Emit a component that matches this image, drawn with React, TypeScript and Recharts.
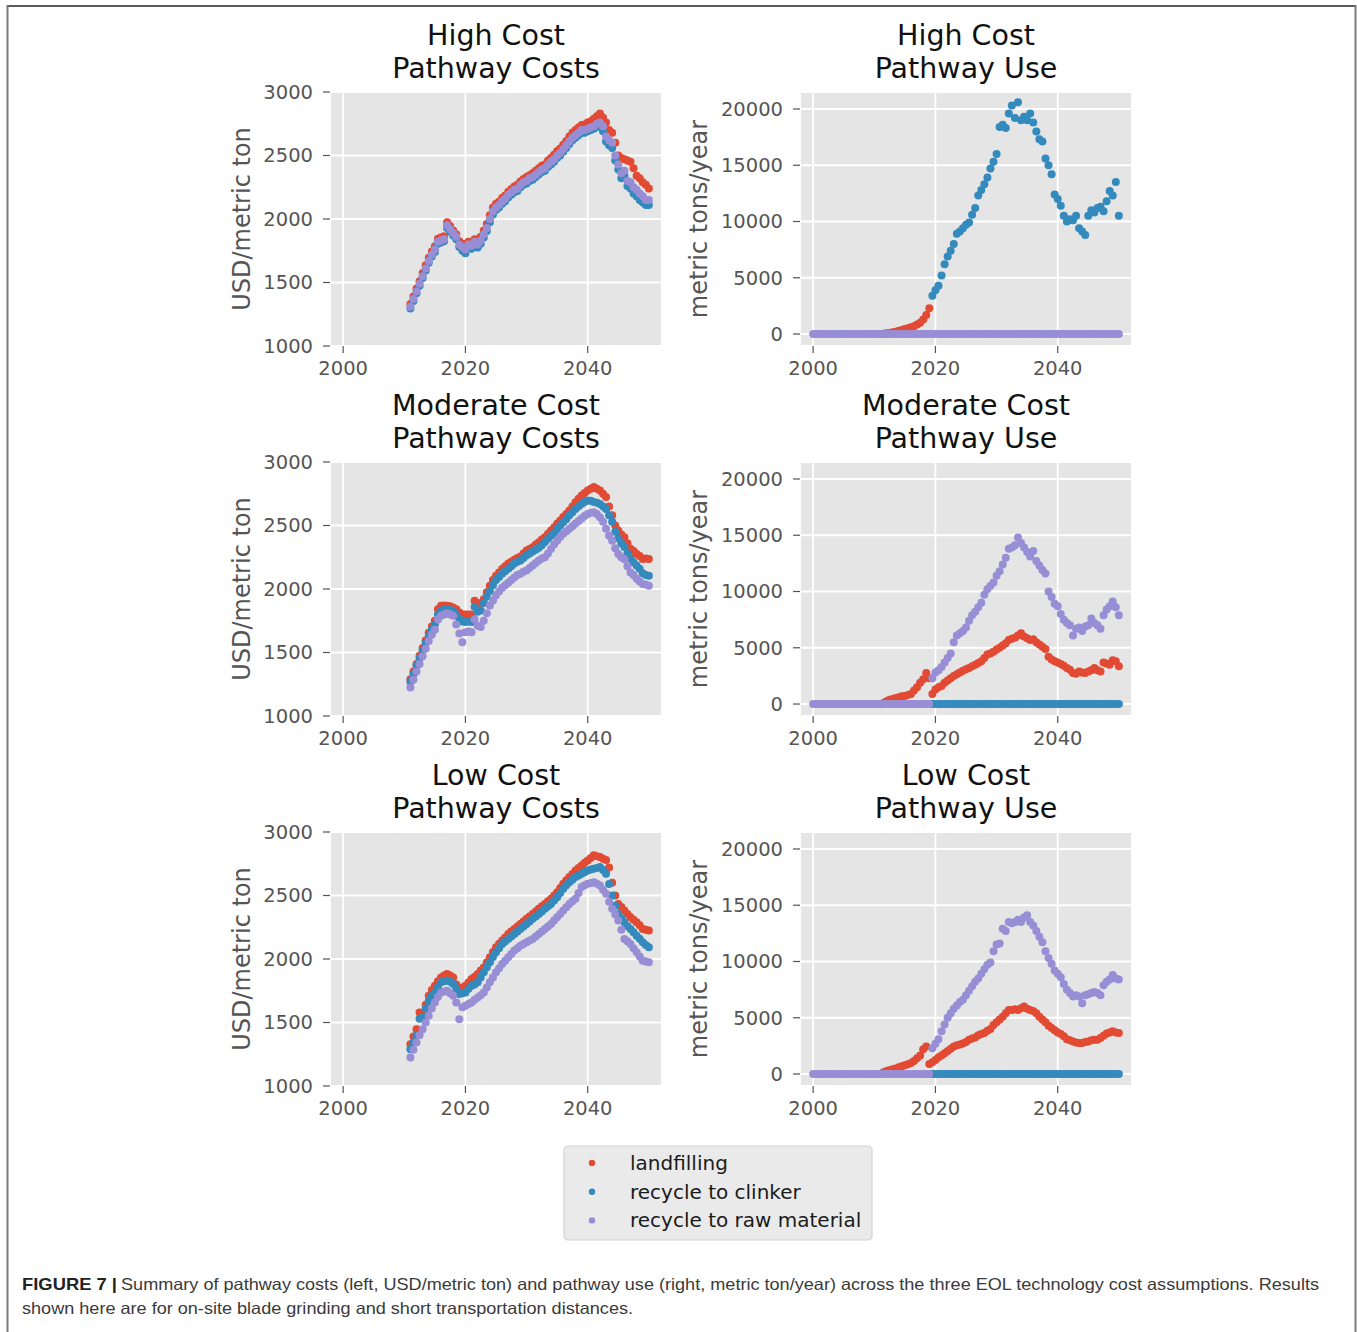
import React from 'react';
import { ScatterChart, Scatter, XAxis, YAxis, CartesianGrid } from 'recharts';

// ---------------- data ----------------
const COST_YEARS = [2011, 2011.5, 2012, 2012.5, 2013, 2013.5, 2014, 2014.5, 2015, 2015.5, 2016, 2016.5, 2017, 2017.5, 2018, 2018.5, 2019, 2019.5, 2020, 2020.5, 2021, 2021.5, 2022, 2022.5, 2023, 2023.5, 2024, 2024.5, 2025, 2025.5, 2026, 2026.5, 2027, 2027.5, 2028, 2028.5, 2029, 2029.5, 2030, 2030.5, 2031, 2031.5, 2032, 2032.5, 2033, 2033.5, 2034, 2034.5, 2035, 2035.5, 2036, 2036.5, 2037, 2037.5, 2038, 2038.5, 2039, 2039.5, 2040, 2040.5, 2041, 2041.5, 2042, 2042.5, 2043, 2043.5, 2044, 2044.5, 2045, 2045.5, 2046, 2046.5, 2047, 2047.5, 2048, 2048.5, 2049, 2049.5, 2050];
const EARLY_YEARS = [2000, 2000.5, 2001, 2001.5, 2002, 2002.5, 2003, 2003.5, 2004, 2004.5, 2005, 2005.5, 2006, 2006.5, 2007, 2007.5, 2008, 2008.5, 2009, 2009.5, 2010, 2010.5];
const USE_YEARS = [...EARLY_YEARS, ...COST_YEARS];
const LATE_YEARS = [2019.5, 2020, 2020.5, 2021, 2021.5, 2022, 2022.5, 2023, 2023.5, 2024, 2024.5, 2025, 2025.5, 2026, 2026.5, 2027, 2027.5, 2028, 2028.5, 2029, 2029.5, 2030, 2030.5, 2031, 2031.5, 2032, 2032.5, 2033, 2033.5, 2034, 2034.5, 2035, 2035.5, 2036, 2036.5, 2037, 2037.5, 2038, 2038.5, 2039, 2039.5, 2040, 2040.5, 2041, 2041.5, 2042, 2042.5, 2043, 2043.5, 2044, 2044.5, 2045, 2045.5, 2046, 2046.5, 2047, 2047.5, 2048, 2048.5, 2049, 2049.5, 2050];

const X_TICKS = [2000, 2020, 2040];
const COST_TICKS = [1000, 1500, 2000, 2500, 3000];
const USE_TICKS = [0, 5000, 10000, 15000, 20000];

const SERIES_NAMES = ['landfilling', 'recycle to clinker', 'recycle to raw material'];

// High cost - pathway costs (USD/metric ton), 2011..2050
const highCostLandfill = [1330, 1390, 1450, 1510, 1575, 1635, 1695, 1745, 1785, 1845, 1855, 1865, 1975, 1945, 1910, 1880, 1825, 1805, 1785, 1820, 1815, 1840, 1825, 1860, 1910, 1960, 2030, 2090, 2120, 2135, 2165, 2185, 2215, 2235, 2255, 2270, 2295, 2315, 2330, 2345, 2360, 2380, 2400, 2420, 2430, 2460, 2480, 2505, 2535, 2555, 2585, 2615, 2650, 2680, 2700, 2720, 2740, 2745, 2760, 2770, 2790, 2810, 2830, 2800, 2760, 2700, 2680, 2600, 2500, 2480, 2470, 2460, 2450, 2400, 2340, 2320, 2290, 2270, 2240];
const highCostClinker = [1295, 1355, 1415, 1475, 1535, 1595, 1655, 1705, 1740, 1805, 1815, 1825, 1930, 1900, 1870, 1840, 1780, 1750, 1730, 1775, 1765, 1795, 1775, 1805, 1855, 1905, 1975, 2035, 2070, 2090, 2120, 2140, 2170, 2190, 2210, 2220, 2250, 2270, 2280, 2300, 2310, 2330, 2350, 2370, 2380, 2410, 2430, 2450, 2480, 2500, 2530, 2560, 2590, 2620, 2640, 2660, 2680, 2680, 2690, 2700, 2710, 2725, 2735, 2690, 2610, 2580, 2560, 2460, 2390, 2320, 2340, 2260, 2240, 2200, 2180, 2150, 2130, 2110, 2110];
const highCostRaw = [1310, 1370, 1430, 1490, 1550, 1610, 1670, 1720, 1760, 1820, 1830, 1840, 1950, 1920, 1890, 1860, 1800, 1780, 1760, 1800, 1790, 1820, 1800, 1830, 1880, 1930, 2000, 2060, 2090, 2110, 2140, 2160, 2190, 2210, 2230, 2240, 2270, 2290, 2300, 2320, 2330, 2350, 2370, 2390, 2400, 2430, 2450, 2470, 2500, 2520, 2550, 2580, 2610, 2640, 2660, 2680, 2700, 2700, 2710, 2720, 2730, 2750, 2760, 2730, 2650, 2620, 2600, 2500, 2430, 2360, 2380, 2300, 2290, 2250, 2230, 2200, 2180, 2150, 2150];

// Moderate cost - pathway costs, 2011..2050
const modCostLandfill = [1290, 1350, 1410, 1475, 1535, 1595, 1655, 1705, 1750, 1840, 1868, 1870, 1868, 1865, 1855, 1840, 1815, 1800, 1800, 1800, 1800, 1907, 1880, 1890, 1920, 1975, 2026, 2070, 2105, 2130, 2158, 2180, 2200, 2215, 2230, 2245, 2255, 2280, 2303, 2315, 2329, 2350, 2368, 2390, 2408, 2435, 2460, 2485, 2513, 2540, 2566, 2590, 2618, 2650, 2684, 2710, 2737, 2755, 2776, 2790, 2803, 2790, 2776, 2750, 2724, 2650, 2580, 2500, 2460, 2430, 2408, 2360, 2316, 2300, 2276, 2260, 2237, 2240, 2237];
const modCostClinker = [1270, 1330, 1395, 1455, 1515, 1575, 1630, 1680, 1720, 1800, 1830, 1835, 1840, 1835, 1825, 1800, 1765, 1745, 1740, 1745, 1740, 1860, 1820, 1830, 1890, 1940, 1985, 2030, 2070, 2095, 2120, 2140, 2160, 2180, 2200, 2215, 2225, 2245, 2265, 2280, 2295, 2310, 2325, 2345, 2370, 2395, 2420, 2440, 2470, 2500, 2525, 2550, 2580, 2605, 2630, 2650, 2670, 2685, 2697, 2695, 2685, 2680, 2670, 2650, 2630, 2580, 2530, 2450, 2400, 2360, 2330, 2280, 2240, 2210, 2185, 2160, 2125, 2110, 2105];
const modCostRaw = [1225, 1285, 1350, 1410, 1470, 1530, 1590, 1640, 1680, 1760, 1790, 1800, 1810, 1800, 1790, 1720, 1650, 1580, 1660, 1665, 1660, 1760, 1710, 1700, 1750, 1810, 1870, 1910, 1950, 1980, 2010, 2030, 2050, 2070, 2090, 2110, 2120, 2135, 2145, 2165, 2185, 2205, 2225, 2240, 2250, 2280, 2315, 2350, 2380, 2410, 2435, 2455, 2475, 2495, 2515, 2535, 2555, 2575, 2590, 2600, 2605, 2590, 2565, 2530, 2475, 2420, 2380, 2320, 2275, 2250, 2235, 2180, 2130, 2110, 2080, 2060, 2040, 2035, 2025];

// Low cost - pathway costs, 2011..2050
const lowCostLandfill = [1329, 1390, 1447, 1579, 1560, 1640, 1710, 1755, 1790, 1825, 1855, 1870, 1882, 1870, 1855, 1800, 1763, 1775, 1790, 1815, 1842, 1860, 1882, 1910, 1934, 1975, 2013, 2055, 2092, 2120, 2145, 2170, 2197, 2217, 2237, 2256, 2276, 2296, 2316, 2335, 2355, 2375, 2395, 2415, 2434, 2454, 2474, 2500, 2526, 2560, 2592, 2620, 2645, 2670, 2697, 2717, 2737, 2757, 2776, 2796, 2816, 2810, 2803, 2790, 2780, 2720, 2600, 2500, 2434, 2410, 2382, 2355, 2329, 2310, 2290, 2265, 2237, 2230, 2224];
const lowCostClinker = [1290, 1345, 1400, 1530, 1540, 1610, 1670, 1710, 1737, 1780, 1816, 1825, 1830, 1820, 1803, 1770, 1724, 1730, 1737, 1765, 1790, 1800, 1816, 1855, 1895, 1935, 1974, 2015, 2053, 2085, 2118, 2138, 2158, 2178, 2197, 2217, 2237, 2256, 2276, 2296, 2316, 2335, 2355, 2375, 2395, 2415, 2434, 2460, 2487, 2520, 2553, 2580, 2605, 2625, 2645, 2658, 2671, 2684, 2697, 2704, 2710, 2717, 2724, 2700, 2671, 2590, 2500, 2420, 2355, 2320, 2290, 2260, 2237, 2210, 2184, 2160, 2132, 2110, 2092];
const lowCostRaw = [1224, 1285, 1342, 1400, 1447, 1500, 1553, 1610, 1658, 1700, 1737, 1745, 1750, 1730, 1710, 1658, 1526, 1620, 1632, 1645, 1658, 1680, 1697, 1715, 1737, 1775, 1816, 1855, 1895, 1928, 1960, 1987, 2013, 2040, 2066, 2085, 2105, 2118, 2132, 2145, 2158, 2178, 2197, 2217, 2237, 2256, 2276, 2303, 2329, 2355, 2382, 2408, 2434, 2454, 2474, 2520, 2566, 2580, 2592, 2598, 2605, 2592, 2579, 2546, 2513, 2450, 2395, 2350, 2303, 2230, 2158, 2140, 2118, 2085, 2053, 2020, 1987, 1980, 1974];

// High cost - pathway use (metric tons/year)
const highUseLandfill = [0, 30, 60, 100, 150, 200, 280, 350, 450, 520, 600, 700, 850, 1000, 1300, 1700, 2300]; // 2011..2019
const highUseClinker = [3400, 3900, 4300, 5200, 6200, 6900, 7400, 8000, 8900, 9100, 9400, 9700, 9900, 10600, 11200, 12300, 12800, 13300, 13900, 14700, 15300, 16000, 18400, 18600, 18300, 19600, 20300, 19200, 20600, 19000, 19300, 19000, 19600, 18800, 18000, 17300, 17100, 15600, 15000, 14200, 12400, 12000, 11400, 10500, 10000, 10200, 10100, 10500, 9400, 9100, 8800, 10500, 11000, 10800, 11200, 11300, 10900, 11800, 12700, 12300, 13500, 10500]; // 2019.5..2050
const highUseRaw = [0, 0, 0, 0, 0, 0, 0, 0, 0, 0, 0, 0, 0, 0, 0, 0, 0, 0, 0, 0, 0, 0, 0, 0, 0, 0, 0, 0, 0, 0, 0, 0, 0, 0, 0, 0, 0, 0, 0, 0, 0, 0, 0, 0, 0, 0, 0, 0, 0, 0, 0, 0, 0, 0, 0, 0, 0, 0, 0, 0, 0, 0, 0, 0, 0, 0, 0, 0, 0, 0, 0, 0, 0, 0, 0, 0, 0, 0, 0, 0, 0, 0, 0, 0, 0, 0, 0, 0, 0, 0, 0, 0, 0, 0, 0, 0, 0, 0, 0, 0, 0]; // 2000..2050

// Moderate cost - pathway use
const modUseLandfill = [0, 100, 250, 380, 450, 530, 600, 680, 720, 800, 900, 1200, 1500, 1900, 2200, 2750, 2300, 900, 1300, 1500, 1600, 1900, 2100, 2300, 2500, 2650, 2800, 2950, 3100, 3200, 3350, 3500, 3650, 3800, 4100, 4400, 4500, 4650, 4850, 5000, 5200, 5400, 5700, 5800, 5900, 6100, 6300, 6000, 5850, 5700, 5750, 5500, 5300, 5100, 4900, 4200, 3950, 3800, 3700, 3550, 3400, 3200, 3050, 2750, 2700, 2900, 2800, 2750, 2900, 3000, 3200, 3000, 2900, 3700, 3600, 3500, 3900, 3800, 3350]; // 2011..2050
const modUseClinker = [0, 0, 0, 0, 0, 0, 0, 0, 0, 0, 0, 0, 0, 0, 0, 0, 0, 0, 0, 0, 0, 0, 0, 0, 0, 0, 0, 0, 0, 0, 0, 0, 0, 0, 0, 0, 0, 0, 0, 0, 0, 0, 0, 0, 0, 0, 0, 0, 0, 0, 0, 0, 0, 0, 0, 0, 0, 0, 0, 0, 0, 0]; // 2019.5..2050
const modUseRaw = [0, 0, 0, 0, 0, 0, 0, 0, 0, 0, 0, 0, 0, 0, 0, 0, 0, 0, 0, 0, 0, 0, 0, 0, 0, 0, 0, 0, 0, 0, 0, 0, 0, 0, 0, 0, 0, 0, 0,
  2300, 2800, 3000, 3300, 3700, 4100, 4500, 5500, 6100, 6300, 6500, 6800, 7400, 7900, 8200, 8600, 9000, 9700, 10200, 10500, 10800, 11400, 11800, 12400, 13000, 13800, 13900, 14100, 14800, 14300, 13900, 13500, 13100, 13600, 12700, 12300, 11900, 11600, 10000, 9500, 8900, 8700, 8000, 7500, 7200, 7000, 6100, 6700, 6800, 6500, 6900, 7000, 7600, 7200, 7000, 6700, 7900, 8400, 8700, 9100, 8600, 7900]; // 2000..2050

// Low cost - pathway use
const lowUseLandfill = [0, 150, 270, 350, 420, 500, 600, 680, 770, 870, 980, 1150, 1400, 1650, 2200, 2450, 900, 1050, 1250, 1500, 1650, 1850, 2050, 2250, 2450, 2550, 2620, 2720, 2850, 3050, 3150, 3250, 3450, 3550, 3650, 3850, 4000, 4350, 4600, 4850, 5100, 5400, 5700, 5700, 5750, 5700, 5850, 6000, 5800, 5700, 5600, 5400, 5100, 4850, 4600, 4300, 4100, 3900, 3700, 3550, 3350, 3100, 3000, 2900, 2800, 2750, 2750, 2850, 2900, 3000, 3050, 3050, 3200, 3400, 3600, 3700, 3800, 3700, 3650]; // 2011..2050
const lowUseClinker = [0, 0, 0, 0, 0, 0, 0, 0, 0, 0, 0, 0, 0, 0, 0, 0, 0, 0, 0, 0, 0, 0, 0, 0, 0, 0, 0, 0, 0, 0, 0, 0, 0, 0, 0, 0, 0, 0, 0, 0, 0, 0, 0, 0, 0, 0, 0, 0, 0, 0, 0, 0, 0, 0, 0, 0, 0, 0, 0, 0, 0, 0]; // 2019.5..2050
const lowUseRaw = [0, 0, 0, 0, 0, 0, 0, 0, 0, 0, 0, 0, 0, 0, 0, 0, 0, 0, 0, 0, 0, 0, 0, 0, 0, 0, 0, 0, 0, 0, 0, 0, 0, 0, 0, 0, 0, 0, 0,
  2300, 2700, 3100, 3800, 4400, 5000, 5400, 5800, 6100, 6400, 6600, 7000, 7400, 7800, 8200, 8500, 8900, 9300, 9700, 9900, 10900, 11500, 11600, 12900, 12700, 13500, 13400, 13500, 13700, 13500, 13900, 14100, 13500, 13200, 12700, 12200, 11700, 10900, 10300, 9800, 9200, 8900, 8600, 8000, 7500, 7200, 6900, 7000, 6900, 6300, 7000, 7100, 7200, 7300, 7200, 7000, 7900, 8200, 8400, 8800, 8500, 8400]; // 2000..2050

// ---------------- styling ----------------
const COLORS = ['#E24A33', '#348ABD', '#988ED5'];
const PLOT_W = 332;
const PLOT_H = 254;
const COL_LEFT = [330, 800];
const ROW_TOP = [92, 462, 832];
const X_DOMAIN: [number, number] = [1997.85, 2052.15];
const COST_DOMAIN: [number, number] = [1000, 3000];
const USE_DOMAIN: [number, number] = [-1065, 21509];
const TICK_FONT = "'DejaVu Sans', sans-serif";
const DOT_R = 4;

const zip = (years: number[], vals: number[]) =>
  vals.map((v, i) => ({ x: years[i], y: v })).filter((d) => d.x !== undefined && d.y !== null && d.y !== undefined);

const PANELS = [
  { title: ['High Cost', 'Pathway Costs'], kind: 'cost', col: 0, row: 0, series: [[COST_YEARS, highCostLandfill], [COST_YEARS, highCostClinker], [COST_YEARS, highCostRaw]] },
  { title: ['High Cost', 'Pathway Use'], kind: 'use', col: 1, row: 0, series: [[COST_YEARS, highUseLandfill], [LATE_YEARS, highUseClinker], [USE_YEARS, highUseRaw]] },
  { title: ['Moderate Cost', 'Pathway Costs'], kind: 'cost', col: 0, row: 1, series: [[COST_YEARS, modCostLandfill], [COST_YEARS, modCostClinker], [COST_YEARS, modCostRaw]] },
  { title: ['Moderate Cost', 'Pathway Use'], kind: 'use', col: 1, row: 1, series: [[COST_YEARS, modUseLandfill], [LATE_YEARS, modUseClinker], [USE_YEARS, modUseRaw]] },
  { title: ['Low Cost', 'Pathway Costs'], kind: 'cost', col: 0, row: 2, series: [[COST_YEARS, lowCostLandfill], [COST_YEARS, lowCostClinker], [COST_YEARS, lowCostRaw]] },
  { title: ['Low Cost', 'Pathway Use'], kind: 'use', col: 1, row: 2, series: [[COST_YEARS, lowUseLandfill], [LATE_YEARS, lowUseClinker], [USE_YEARS, lowUseRaw]] },
];

const Y_AXIS_W = 120;
const PAD_TOP = 10;
const PAD_RIGHT = 12;
const X_AXIS_H = 40;

function Panel({ p }: { p: any }) {
  const left = COL_LEFT[p.col];
  const top = ROW_TOP[p.row];
  const isCost = p.kind === 'cost';
  const tickStyle = { fill: '#555555', fontSize: 19.5, fontFamily: TICK_FONT };
  return (
    <div style={{ position: 'absolute', left: left - Y_AXIS_W, top: top - PAD_TOP }}>
      <ScatterChart
        width={PLOT_W + Y_AXIS_W + PAD_RIGHT}
        height={PLOT_H + PAD_TOP + X_AXIS_H}
        margin={{ top: PAD_TOP, right: PAD_RIGHT, bottom: 0, left: 0 }}
      >
        <CartesianGrid fill="#E5E5E5" fillOpacity={1} stroke="#FFFFFF" strokeWidth={1.8} />
        <XAxis
          type="number"
          dataKey="x"
          domain={X_DOMAIN}
          ticks={X_TICKS}
          allowDataOverflow
          interval={0}
          height={X_AXIS_H}
          axisLine={false}
          tickLine={{ stroke: '#555555', strokeWidth: 1.2 }}
          tickSize={7}
          tickMargin={8}
          tick={tickStyle}
        />
        <YAxis
          type="number"
          dataKey="y"
          domain={isCost ? COST_DOMAIN : USE_DOMAIN}
          ticks={isCost ? COST_TICKS : USE_TICKS}
          allowDataOverflow
          interval={0}
          width={Y_AXIS_W}
          axisLine={false}
          tickLine={{ stroke: '#555555', strokeWidth: 1.2 }}
          tickSize={7}
          tickMargin={10}
          tick={tickStyle}
        />
        {p.series.map((s: any[], i: number) => (
          <Scatter
            key={SERIES_NAMES[i]}
            name={SERIES_NAMES[i]}
            data={zip(s[0], s[1])}
            fill={COLORS[i]}
            isAnimationActive={false}
            shape={(d: any) => <circle cx={d.cx} cy={d.cy} r={DOT_R} fill={COLORS[i]} />}
          />
        ))}
      </ScatterChart>
    </div>
  );
}

export default function App() {
  const cx = (col: number) => COL_LEFT[col] + PLOT_W / 2;
  const cy = (row: number) => ROW_TOP[row] + PLOT_H / 2;
  const capFont = "'Liberation Sans Narrow', 'Liberation Sans', Arial, sans-serif";
  return (
    <div style={{ position: 'relative', width: 1357, height: 1332, background: '#FFFFFF', overflow: 'hidden' }}>
      <style>{'body{margin:0;}'}</style>
      {PANELS.map((p, i) => (
        <Panel key={i} p={p} />
      ))}
      <svg width={1357} height={1332} style={{ position: 'absolute', left: 0, top: 0, pointerEvents: 'none' }}>
        {/* frame */}
        <line x1={7.5} y1={6} x2={1355.5} y2={6} stroke="#5a5a5a" strokeWidth={2} />
        <line x1={7.5} y1={5} x2={7.5} y2={1332} stroke="#7a7a7a" strokeWidth={2} />
        <line x1={1355.5} y1={5} x2={1355.5} y2={1332} stroke="#7a7a7a" strokeWidth={2} />
        {/* titles */}
        {PANELS.map((p, i) => (
          <g key={'t' + i}>
            <text x={cx(p.col)} y={ROW_TOP[p.row] - 47} textAnchor="middle" fontFamily={TICK_FONT} fontSize={28.5} fill="#111111">{p.title[0]}</text>
            <text x={cx(p.col)} y={ROW_TOP[p.row] - 14.5} textAnchor="middle" fontFamily={TICK_FONT} fontSize={28.5} fill="#111111">{p.title[1]}</text>
          </g>
        ))}
        {/* y labels */}
        {PANELS.map((p, i) => {
          const x = p.col === 0 ? COL_LEFT[0] - 80 : COL_LEFT[1] - 93;
          const y = cy(p.row);
          return (
            <text key={'y' + i} x={x} y={y} transform={`rotate(-90 ${x} ${y})`} textAnchor="middle" fontFamily={TICK_FONT} fontSize={24} fill="#555555">
              {p.kind === 'cost' ? 'USD/metric ton' : 'metric tons/year'}
            </text>
          );
        })}
        {/* legend */}
        <rect x={564} y={1146} width={308} height={94} rx={4} fill="#EAEAEA" stroke="#D2D2D2" strokeWidth={1.2} />
        {SERIES_NAMES.map((n, i) => (
          <g key={'l' + i}>
            <circle cx={592} cy={1163 + i * 28.7} r={3.2} fill={COLORS[i]} />
            <text x={630} y={1170 + i * 28.7} fontFamily={TICK_FONT} fontSize={20} fill="#1a1a1a">{n}</text>
          </g>
        ))}
        {/* caption */}
        <text x={22} y={1290} fontFamily={capFont} fontSize={16.5} fontWeight="bold" fill="#222222" textLength={95} lengthAdjust="spacingAndGlyphs">FIGURE 7 |</text>
        <text x={121} y={1290} fontFamily={capFont} fontSize={16.5} fill="#3a3a3a" textLength={1198} lengthAdjust="spacingAndGlyphs">Summary of pathway costs (left, USD/metric ton) and pathway use (right, metric ton/year) across the three EOL technology cost assumptions. Results</text>
        <text x={22} y={1314} fontFamily={capFont} fontSize={16.5} fill="#3a3a3a" textLength={611} lengthAdjust="spacingAndGlyphs">shown here are for on-site blade grinding and short transportation distances.</text>
      </svg>
    </div>
  );
}
